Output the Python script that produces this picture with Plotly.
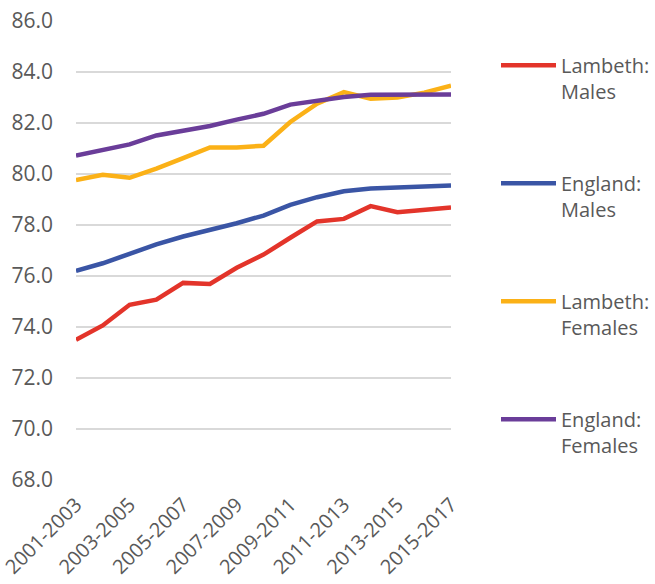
import plotly.graph_objects as go

periods = [f"{y}-{y + 2}" for y in range(2001, 2016)]

lambeth_males = [73.50, 74.06, 74.87, 75.07, 75.73, 75.69, 76.32, 76.84, 77.50, 78.14,
                 78.24, 78.74, 78.50, 78.60, 78.69]
england_males = [76.20, 76.50, 76.87, 77.24, 77.55, 77.79, 78.07, 78.37, 78.79, 79.09,
                 79.32, 79.43, 79.46, 79.52, 79.55]
lambeth_females = [79.76, 79.97, 79.85, 80.21, 80.62, 81.04, 81.04, 81.11, 82.04, 82.76,
                   83.21, 82.95, 83.00, 83.19, 83.46]
england_females = [80.72, 80.93, 81.16, 81.51, 81.71, 81.88, 82.13, 82.36, 82.72, 82.89,
                   83.02, 83.11, 83.11, 83.14, 83.12]

series = [
    ("Lambeth:<br>Males", lambeth_males, "#E3342A"),
    ("England:<br>Males", england_males, "#3A55A5"),
    ("Lambeth:<br>Females", lambeth_females, "#FBB117"),
    ("England:<br>Females", england_females, "#6A3D99"),
]

y_ticks = [68, 70, 72, 74, 76, 78, 80, 82, 84, 86]
font_family = "'Open Sans', sans-serif"
text_grey = "#595959"

fig = go.Figure()
for i, (name, values, colour) in enumerate(series):
    fig.add_trace(go.Scatter(
        x=periods, y=values, name=name, mode="lines",
        legendgroup=f"g{i}",
        line=dict(color=colour, width=4.5, shape="linear"),
    ))

fig.update_layout(
    width=655, height=584,
    margin=dict(l=76, r=204, t=21, b=104, autoexpand=False),
    paper_bgcolor="white", plot_bgcolor="white",
    font=dict(family=font_family, size=20, color=text_grey),
    showlegend=True,
    legend=dict(
        x=1.12, xanchor="left", y=0.946, yanchor="top",
        valign="top", itemwidth=55, tracegroupgap=63,
        font=dict(family=font_family, size=20, color=text_grey),
        bgcolor="rgba(0,0,0,0)",
    ),
    xaxis=dict(
        type="category", tickmode="array", tickvals=periods[::2],
        tickangle=-45, showgrid=False, showline=False, zeroline=False,
        tickfont=dict(size=20), ticklabelstandoff=8, automargin=False,
    ),
    yaxis=dict(
        range=[68, 86], tickvals=y_ticks, tickformat=".1f",
        tickfont=dict(size=21),
        showgrid=True, gridcolor="#D9D9D9", gridwidth=1.5,
        showline=False, zeroline=False, ticklabelstandoff=22, automargin=False,
    ),
)

fig.write_html("out.html")
